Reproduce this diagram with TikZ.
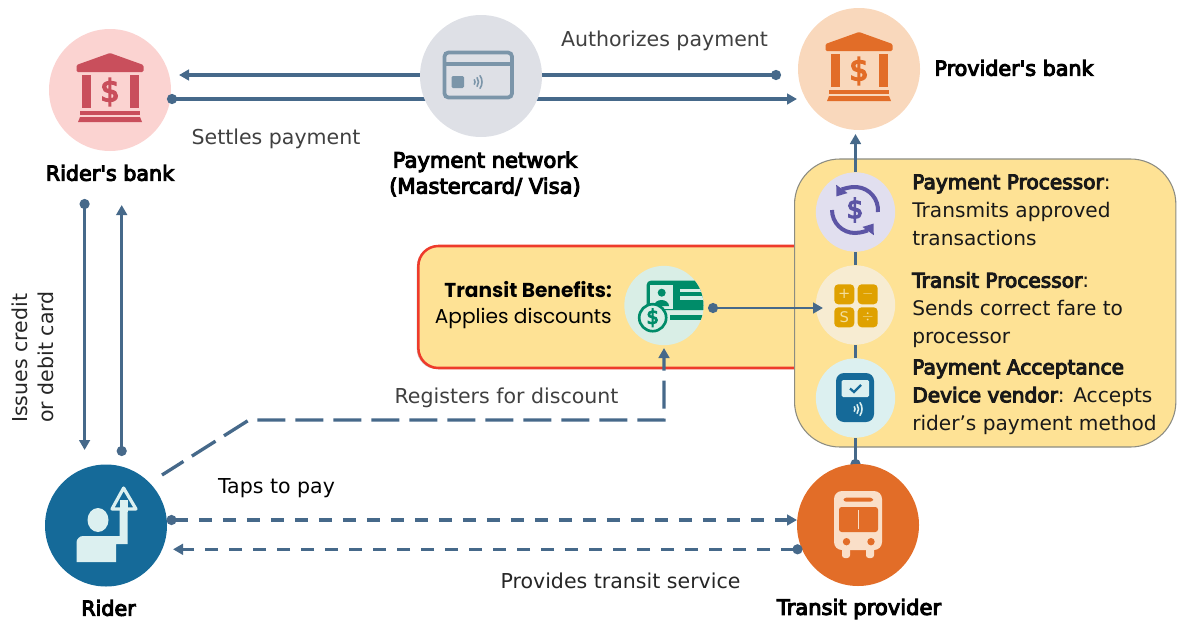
\documentclass[tikz,border=0pt]{standalone}
\usepackage{fontspec}
\setmainfont{DejaVu Sans}
\newfontfamily\headfont[FakeBold=5]{DejaVu Sans}
\newfontfamily\benefitfont{Poppins}
\usetikzlibrary{arrows.meta,shapes.geometric,shadows}

\definecolor{flowblue}{HTML}{46698A}
\definecolor{boxyellow}{HTML}{FEE295}
\definecolor{boxred}{HTML}{EE3B2B}
\definecolor{boxgrey}{HTML}{8C8C82}
\definecolor{riderblue}{HTML}{156A99}
\definecolor{paleblue}{HTML}{DCF0F0}
\definecolor{busorange}{HTML}{E26D28}
\definecolor{buscream}{HTML}{FADFC8}
\definecolor{bankred}{HTML}{C94F5C}
\definecolor{cardgrey}{HTML}{7B95A9}
\definecolor{procpurple}{HTML}{5C55A5}
\definecolor{calcamber}{HTML}{DFA100}
\definecolor{calcpale}{HTML}{F3DE9C}
\definecolor{benefitgreen}{HTML}{008C69}
\definecolor{benefitpale}{HTML}{D9EEE6}

\pgfdeclarelayer{boxes}
\pgfdeclarelayer{discs}
\pgfdeclarelayer{links}
\pgfsetlayers{boxes,discs,links,main}

\tikzset{
  bigdisc/.style={circle,inner sep=0pt,minimum size=91.5pt},
  smalldisc/.style={circle,inner sep=0pt,minimum size=59.5pt},
  flow/.style={draw=flowblue,line width=2.5pt},
  flowdash/.style={flow,line width=2.3pt,dash pattern=on 10pt off 8pt},
  tipto/.style={-{Triangle[length=7.5pt,width=8pt]}},
  dotto/.style={{Circle[length=7.5pt]}-},
  dottip/.style={{Circle[length=7.5pt]}-{Triangle[length=7.5pt,width=8pt]}},
  caption/.style={inner sep=0pt,font=\fontsize{15.4}{20}\selectfont,text=#1},
  caption/.default=black!75,
  heading/.style={inner sep=0pt,align=center,font=\headfont\fontsize{15.5}{19.5}\selectfont},
  boxtext/.style={inner sep=0pt,anchor=west,align=left,font=\fontsize{15.1}{21}\selectfont,text=black!90},
}

% icons, drawn round the centre of a disc
\newcommand{\bankicon}[2]{
  \begin{scope}[shift={(#1.center)}]
    \fill[#2,rounded corners=1pt] (0,-37) -- (-33.5,-25) -- (-33.5,-18) -- (33.5,-18) -- (33.5,-25) -- cycle;
    \fill[#2] (-28,-15) rectangle (-19,18);
    \fill[#2] (20,-15) rectangle (28.5,18);
    \fill[#2] (-30,20.7) rectangle (30,25);
    \fill[#2] (-30,27) -- (30,27) -- (32,32) -- (-32,32) -- cycle;
    \node[inner sep=0pt,text=#2,font=\headfont\fontsize{23}{23}\selectfont] (#1dollar) at (0,2) {\$};
  \end{scope}
}
\newcommand{\waves}[3]{
  \foreach \rad in {4,7.5,11}
    \draw[#3,line width=1.2pt,line cap=round] (#1,#2) ++(-35:\rad) arc (-35:35:\rad);
}

\begin{document}
\begin{tikzpicture}[x=0.75pt,y=0.75pt,yscale=-1,xscale=1]
    \path[use as bounding box] (0,0) rectangle (1177,621);

    % discs
    \begin{pgfonlayer}{discs}
    \node[bigdisc,fill={rgb,255:red,251;green,211;blue,209}] (ridersbank) at (110,90) {};
    \node[bigdisc,fill={rgb,255:red,249;green,216;blue,188}] (providersbank) at (859,69) {};
    \node[bigdisc,fill=riderblue] (rider) at (106,525.5) {};
    \node[bigdisc,fill=busorange] (transitprovider) at (858,525) {};
    \end{pgfonlayer}
    \node[bigdisc,fill={rgb,255:red,222;green,224;blue,230}] (network) at (481,76) {};
    \node[smalldisc,fill={rgb,255:red,225;green,223;blue,239}] (payprocessor) at (855.5,212) {};
    \node[smalldisc,fill={rgb,255:red,247;green,236;blue,210}] (transitprocessor) at (855.5,305) {};
    \node[smalldisc,fill=paleblue] (acceptdevice) at (855.5,398) {};
    \node[smalldisc,fill=benefitpale] (benefits) at (664,305.5) {};

    % free ends of the connectors
    \coordinate (authfrom) at (781,75);
    \coordinate (authto) at (179,75);
    \coordinate (settlefrom) at (167,99);
    \coordinate (settleto) at (797,99);
    \coordinate (issuefrom) at (84.6,199);
    \coordinate (issueto) at (84.6,450);
    \coordinate (applyfrom) at (121.7,456);
    \coordinate (applyto) at (121.7,205);
    \coordinate (tapfrom) at (166.5,520);
    \coordinate (tapto) at (797,520);
    \coordinate (servefrom) at (802.5,549.3);
    \coordinate (serveto) at (173,549.3);
    \coordinate (regstart) at (162,475);
    \coordinate (regbend) at (249,420);
    \coordinate (regcorner) at (664,420);
    \coordinate (regto) at (664,348);
    \coordinate (benefitfrom) at (708,308);
    \coordinate (benefitto) at (823,308);
    \coordinate (paytop) at (855.5,134);
    \coordinate (devicefoot) at (855.5,469);

    % yellow boxes
    \begin{pgfonlayer}{boxes}
    \node[draw=boxred,fill=boxyellow,line width=1.9pt,rounded corners=15pt,minimum width=298pt,minimum height=91.5pt,
      drop shadow={shadow xshift=-1.2pt,shadow yshift=-0.8pt,opacity=0.35}] (benefitbox) at (617,307) {};
    \node[draw=boxgrey,fill=boxyellow,line width=0.8pt,rounded corners=34pt,minimum width=286pt,minimum height=216pt] (processorbox) at (985.2,303) {};
    \draw[flow,dotto] (devicefoot) -- (acceptdevice.south);
    \end{pgfonlayer}

    \begin{pgfonlayer}{links}
    \draw[flow,dottip] (authfrom) -- (authto);
    \draw[flow,dottip] (settlefrom) -- (settleto);
    \draw[flow,dottip] (issuefrom) -- (issueto);
    \draw[flow,dottip,line width=2.1pt] (applyfrom) -- (applyto);
    \draw[flowdash,dottip] (tapfrom) -- (tapto);
    \draw[flowdash,dottip] (servefrom) -- (serveto);
    \draw[flow,tipto,dash pattern=on 21pt off 7.5pt,dash phase=2pt] (regstart) -- (regbend) -- (regcorner) -- (regto);
    \draw[flow,tipto] (payprocessor.north) -- (paytop);
    \draw[flow] (payprocessor.south) -- (transitprocessor.north);
    \draw[flow] (transitprocessor.south) -- (acceptdevice.north);
    \end{pgfonlayer}
    \draw[flow,line width=1.9pt,dottip] (benefitfrom) -- (benefitto);

    % icons
    \bankicon{ridersbank}{bankred}
    \bankicon{providersbank}{busorange}

    % card
    \draw[cardgrey,line width=2.8pt,rounded corners=3pt] (444.5,52.5) rectangle (512,97.5);
    \fill[cardgrey] (444.5,62) rectangle (512,66);
    \fill[cardgrey,rounded corners=1pt] (451.6,76) rectangle (464,88);
    \waves{471}{82}{cardgrey}

    % rider
    \fill[paleblue] (98,520) ellipse (10.5 and 12);
    \fill[paleblue] (76.5,562) [rounded corners=5pt] -- (76.5,536) [sharp corners] -- (119.5,536) -- (119.5,510) -- (127.5,510) -- (127.5,544) -- (116,544) -- (116,562) -- cycle;
    \draw[paleblue,line width=2.4pt,line join=round,fill=riderblue] (123.6,488) -- (112,509) -- (136,509) -- cycle;
    \fill[paleblue] (119.5,500) rectangle (127.5,512);

    % bus
    \fill[buscream,rounded corners=6pt] (834,491) rectangle (882,550);
    \fill[buscream,rounded corners=2pt] (842,545) rectangle (850,558);
    \fill[buscream,rounded corners=2pt] (866,545) rectangle (874,558);
    \fill[busorange,rounded corners=2pt] (843.5,497.7) rectangle (873,501.7);
    \fill[busorange,rounded corners=2pt] (839,507) rectangle (878,532);
    \draw[buscream,line width=1.3pt] (858.5,510) -- (858.5,529);
    \fill[busorange] (846.5,541.7) circle (3.7);
    \fill[busorange] (871,541.7) circle (3.7);

    % payment processor
    \draw[procpurple,line width=3pt,-{Triangle[length=7pt,width=10pt]}] (877.9,212) arc (5:-144:23);
    \draw[procpurple,line width=3pt,-{Triangle[length=7pt,width=10pt]}] (832,210) arc (180:36:23);
    \node[inner sep=0pt,text=procpurple,font=\headfont\fontsize{20}{20}\selectfont] (paydollar) at (855,210) {\$};

    % transit processor
    \foreach \px/\py/\sym/\nm in {834.3/284.3/+/plus,857.7/284.3/$-$/minus,834.3/307.3/S/sign,857.7/307.3/$\div$/div}{
      \fill[calcamber,rounded corners=3pt] (\px,\py) rectangle ++(20,20);
      \node[inner sep=0pt,text=calcpale,font=\fontsize{11}{11}\selectfont] (calc\nm) at (\px+10,\py+10) {\sym};
    }

    % device
    \fill[riderblue,rounded corners=6pt] (836,373) rectangle (874,422);
    \fill[paleblue,rounded corners=1pt] (841.7,380) rectangle (869,397);
    \draw[riderblue,line width=1.7pt] (850,388.5) -- (854,392) -- (861,385);
    \waves{851}{409}{paleblue}

    % benefit card
    \begin{scope}
      \clip (benefits.center) circle (39.5);
      \fill[benefitgreen,rounded corners=3pt] (646.7,280.7) rectangle (710,310);
      \fill[benefitpale] (650,285) rectangle (673,309);
      \fill[benefitgreen] (661.7,292.7) circle (4);
      \fill[benefitgreen] (654,306) arc (180:360:7.5 and 6) -- cycle;
      \fill[benefitpale] (680,288.5) rectangle (710,292);
      \fill[benefitpale] (680,296) rectangle (710,300);
      \fill[benefitgreen] (670,315) rectangle (710,319.5);
    \end{scope}
    \draw[benefitgreen,line width=2pt,fill=benefitpale] (652.7,317.7) circle (13.5);
    \node[inner sep=0pt,text=benefitgreen,font=\headfont\fontsize{15}{15}\selectfont] (benefitdollar) at (652.7,317.7) {\$};

    % labels
    \node[caption] (authlabel) at (664.5,40.5) {Authorizes payment};
    \node[caption] (settlelabel) at (276,139) {Settles payment};
    \node[caption] (reglabel) at (506.5,398) {Registers for discount};
    \node[caption=black] (taplabel) at (276.5,488) {Taps to pay};
    \node[caption=black!85] (servelabel) at (620.5,581) {Provides transit service};
    \node[caption=black!85,rotate=90,align=left] (issuelabel) at (33,357) {Issues credit\\or debit card};

    \node[heading] (ridersbanklabel) at (110,173) {Rider's bank};
    \node[heading,font=\headfont\fontsize{15.8}{19.5}\selectfont] (networklabel) at (485,174) {Payment network\\(Mastercard/ Visa)};
    \node[heading] (providerlabel) at (1014,68) {Provider's bank};
    \node[heading] (riderlabel) at (108.5,608) {Rider};
    \node[heading,font=\headfont\fontsize{15.8}{19.5}\selectfont] (transitlabel) at (859,609) {Transit provider};

    \node[boxtext] (paytext) at (912,210) {{\headfont Payment Processor}:\\Transmits approved\\transactions};
    \node[boxtext] (transittext) at (912,310) {{\headfont Transit Processor}:\\Sends correct fare to\\processor};
    \node[boxtext] (devicetext) at (912,397) {{\headfont Payment Acceptance}\\{\headfont Device vendor}: Accepts\\rider’s payment method};
    \node[inner sep=0pt,align=right,anchor=east,font=\benefitfont\fontsize{15.1}{19.5}\selectfont] (benefittext) at (612,305) {\textbf{Transit Benefits:}\\Applies discounts};
\end{tikzpicture}
\end{document}
